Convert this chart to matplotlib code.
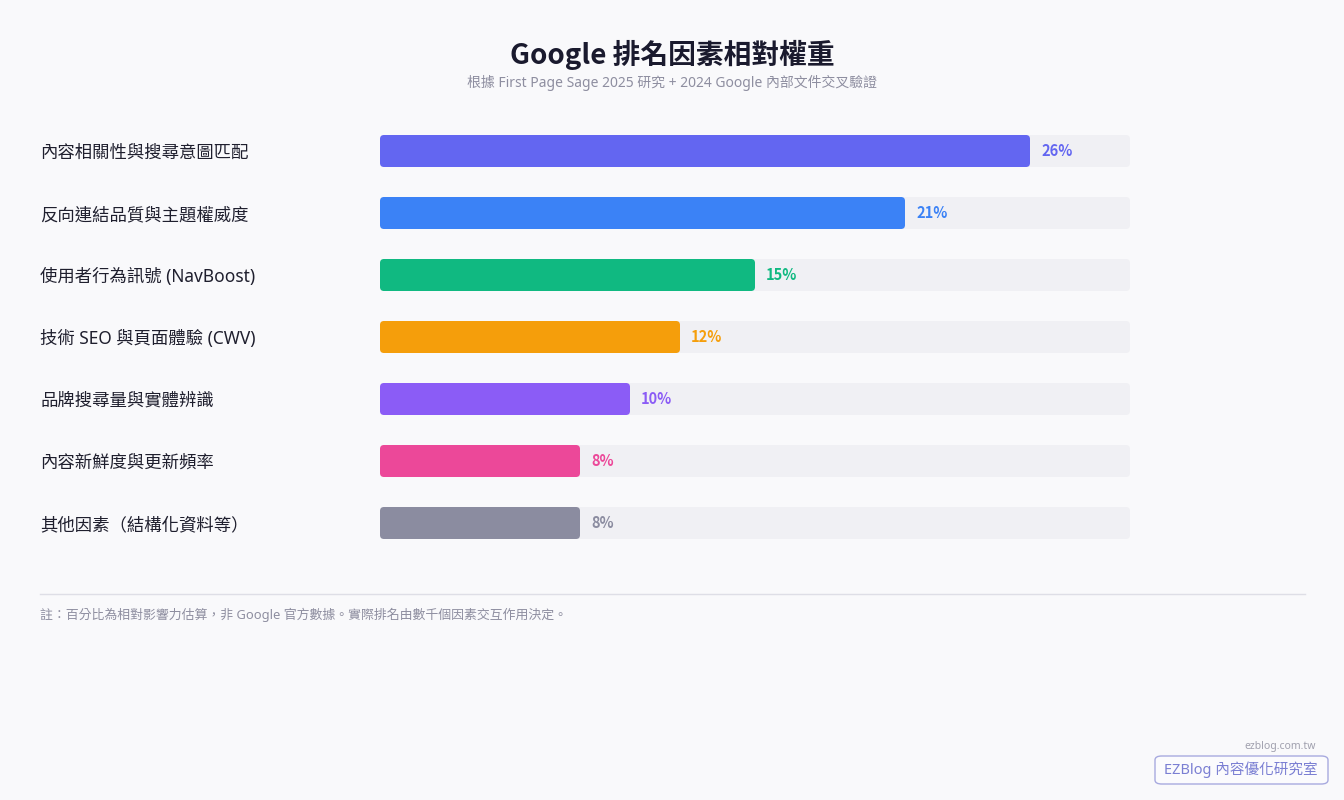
import matplotlib.pyplot as plt
from matplotlib.patches import FancyBboxPatch

plt.rcParams["font.family"] = ["Noto Sans", "Noto Sans CJK TC", "DejaVu Sans"]
BOLD = ["Noto Sans CJK TC", "DejaVu Sans"]

categories = [
    "內容相關性與搜尋意圖匹配",
    "反向連結品質與主題權威度",
    "使用者行為訊號 (NavBoost)",
    "技術 SEO 與頁面體驗 (CWV)",
    "品牌搜尋量與實體辨識",
    "內容新鮮度與更新頻率",
    "其他因素（結構化資料等）",
]
values = [26, 21, 15, 12, 10, 8, 8]
colors = ["#6366f1", "#3b82f6", "#10b981", "#f59e0b", "#8b5cf6", "#ec4899", "#8b8ca0"]
scale_max = 30

W, H = 1344, 800
bg = "#f9f9fb"
fig = plt.figure(figsize=(W / 100, H / 100), dpi=100, facecolor=bg)

# axes: bars run from x=380 to 1130 px, rows from y=120 to 554 px
ax = fig.add_axes([380 / W, (H - 554) / H, 750 / W, 434 / H])
ax.set_facecolor("none")
ax.set_xlim(0, scale_max)
ax.set_ylim(len(values) - 0.5, -0.5)
ax.axis("off")

bar_h = 32 / 62
asp = (1 / 62) / (scale_max / 750)  # keeps the corner round in pixels
round_x = 4 * scale_max / 750

for i, (cat, v, c) in enumerate(zip(categories, values, colors)):
    track = FancyBboxPatch((0, i - bar_h / 2), scale_max, bar_h,
                           boxstyle=f"round,pad=0,rounding_size={round_x}",
                           mutation_aspect=asp, fc="#f0f0f4", ec="none")
    ax.add_patch(track)
    bar = FancyBboxPatch((0, i - bar_h / 2), v, bar_h,
                         boxstyle=f"round,pad=0,rounding_size={round_x}",
                         mutation_aspect=asp, fc=c, ec="none")
    ax.add_patch(bar)
    ax.text(v + 11 * scale_max / 750, i, f"{v}%", color=c, fontsize=10.5,
            fontweight="bold", family=BOLD, va="center", ha="left")
    fig.text(40 / W, 1 - (153 + 62 * i) / H, cat, fontsize=12.5, color="#1f1f2e",
             va="center", ha="left")

fig.text(0.5, 1 - 55 / H, "Google 排名因素相對權重", fontsize=20, fontweight="bold",
         family=BOLD, color="#1a1a2e", ha="center", va="center")
fig.text(0.5, 1 - 83 / H, "根據 First Page Sage 2025 研究 + 2024 Google 內部文件交叉驗證",
         fontsize=10, color="#8e8ea0", ha="center", va="center")

fig.add_artist(plt.Line2D([40 / W, 1305 / W], [1 - 594 / H, 1 - 594 / H],
                          color="#dedee6", lw=1))
fig.text(40 / W, 1 - 615 / H,
         "註：百分比為相對影響力估算，非 Google 官方數據。實際排名由數千個因素交互作用決定。",
         fontsize=9.3, color="#8e8ea0", ha="left", va="center")

fig.text(1316 / W, 1 - 746 / H, "ezblog.com.tw", fontsize=7.5, color="#a0a0ae",
         ha="right", va="center")
box = FancyBboxPatch((1155 / W, 1 - 784 / H), 173 / W, 28 / H,
                     boxstyle="round,pad=0,rounding_size=0.005",
                     transform=fig.transFigure, fc="#fbfbfd", ec="#a8aadf", lw=1)
fig.add_artist(box)
fig.text(1241 / W, 1 - 770 / H, "EZBlog 內容優化研究室", fontsize=10.5, color="#7b7fd3",
         ha="center", va="center")

fig.savefig("out.png", dpi=100, facecolor=bg)
